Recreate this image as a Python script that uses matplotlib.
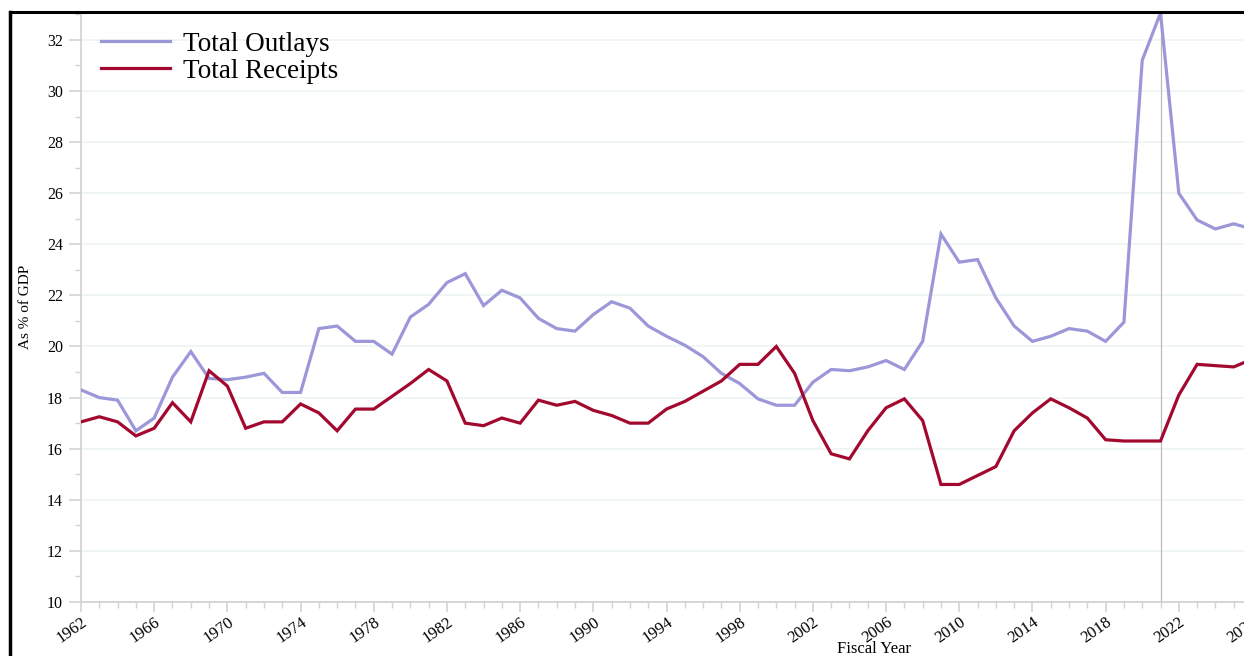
import matplotlib
matplotlib.use("Agg")
import matplotlib.pyplot as plt
from matplotlib.lines import Line2D
from matplotlib.ticker import MultipleLocator
import numpy as np

# fiscal years and % of GDP
years = list(range(1962, 2027))

outlays = [18.3, 18.0, 17.9, 16.7, 17.2, 18.8, 19.8, 18.75, 18.7, 18.8,
           18.95, 18.2, 18.2, 20.7, 20.8, 20.2, 20.2, 19.7, 21.15, 21.65,
           22.5, 22.85, 21.6, 22.2, 21.9, 21.1, 20.7, 20.6, 21.25, 21.75,
           21.5, 20.8, 20.4, 20.05, 19.6, 18.95, 18.55, 17.95, 17.7, 17.7,
           18.6, 19.1, 19.05, 19.2, 19.45, 19.1, 20.2, 24.4, 23.3, 23.4,
           21.9, 20.8, 20.2, 20.4, 20.7, 20.6, 20.2, 20.95, 31.2, 33.05,
           26.0, 24.95, 24.6, 24.8, 24.6]

receipts = [17.05, 17.25, 17.05, 16.5, 16.8, 17.8, 17.05, 19.05, 18.45, 16.8,
            17.05, 17.05, 17.75, 17.4, 16.7, 17.55, 17.55, 18.05, 18.55, 19.1,
            18.65, 17.0, 16.9, 17.2, 17.0, 17.9, 17.7, 17.85, 17.5, 17.3,
            17.0, 17.0, 17.55, 17.85, 18.25, 18.65, 19.3, 19.3, 20.0, 18.95,
            17.1, 15.8, 15.6, 16.7, 17.6, 17.95, 17.1, 14.6, 14.6, 14.95,
            15.3, 16.7, 17.4, 17.95, 17.6, 17.2, 16.35, 16.3, 16.3, 16.3,
            18.1, 19.3, 19.25, 19.2, 19.5]

hover_year = 2021

FONT = ["Liberation Serif", "DejaVu Serif"]
plt.rcParams["font.family"] = FONT

fig = plt.figure(figsize=(12.44, 6.56), dpi=100)
# plot area runs a little past the right edge of the picture (screenshot crop)
ax = fig.add_axes([81 / 1244, 54 / 656, (1252 - 81) / 1244, 590 / 656])

ax.plot(years, outlays, color="#9b97d9", lw=2.3, label="Total Outlays",
        solid_joinstyle="miter", zorder=3)
ax.plot(years, receipts, color="#a3082f", lw=2.3, label="Total Receipts",
        solid_joinstyle="miter", zorder=3)
ax.axvline(hover_year, color="#bbbbbb", lw=0.9, zorder=2)

xt = np.arange(1962, 2027, 4)
ax.set_xticks(xt)
ax.set_xticklabels([str(y) for y in xt], rotation=35, ha="right",
                   rotation_mode="anchor")

ax.yaxis.set_major_locator(MultipleLocator(2))
ax.yaxis.set_minor_locator(MultipleLocator(1))
ax.xaxis.set_minor_locator(MultipleLocator(1))

ax.set_xlim(1962, 2026)
ax.set_ylim(10, 33.09)

ax.grid(axis="y", which="major", color="#eef3f3", lw=1.2, zorder=0)
for s in ["top", "right"]:
    ax.spines[s].set_visible(False)
for s in ["left", "bottom"]:
    ax.spines[s].set_color("#d3d3d3")
    ax.spines[s].set_linewidth(1.3)

ax.tick_params(axis="y", which="major", length=9, width=1.2, color="#d3d3d3",
               labelsize=11.5, pad=4)
ax.tick_params(axis="y", which="minor", length=4.5, width=1.0, color="#d3d3d3")
ax.tick_params(axis="x", which="major", length=7, width=1.2, color="#d3d3d3",
               labelsize=12, pad=2)
ax.tick_params(axis="x", which="minor", length=4, width=1.0, color="#d3d3d3")

ax.set_xlabel("Fiscal Year", fontsize=12)
ax.xaxis.set_label_coords((874 - 81) / 1171, -0.066)
ax.set_ylabel("As % of GDP", fontsize=11)
ax.yaxis.set_label_coords(-0.042, 0.5)

leg = ax.legend(loc="upper left", bbox_to_anchor=(-0.004, 1.008), frameon=False,
                fontsize=19.5, handlelength=2.55, handletextpad=0.5,
                labelspacing=0.08)

# black screenshot frame on the left and top
fig.add_artist(Line2D([9.5 / 1244, 9.5 / 1244], [0, 1 - 12 / 656],
                      color="black", lw=2.5, transform=fig.transFigure))
fig.add_artist(Line2D([9.5 / 1244, 1], [1 - 12 / 656, 1 - 12 / 656],
                      color="black", lw=2.2, transform=fig.transFigure))

fig.savefig("out.png", dpi=100)
